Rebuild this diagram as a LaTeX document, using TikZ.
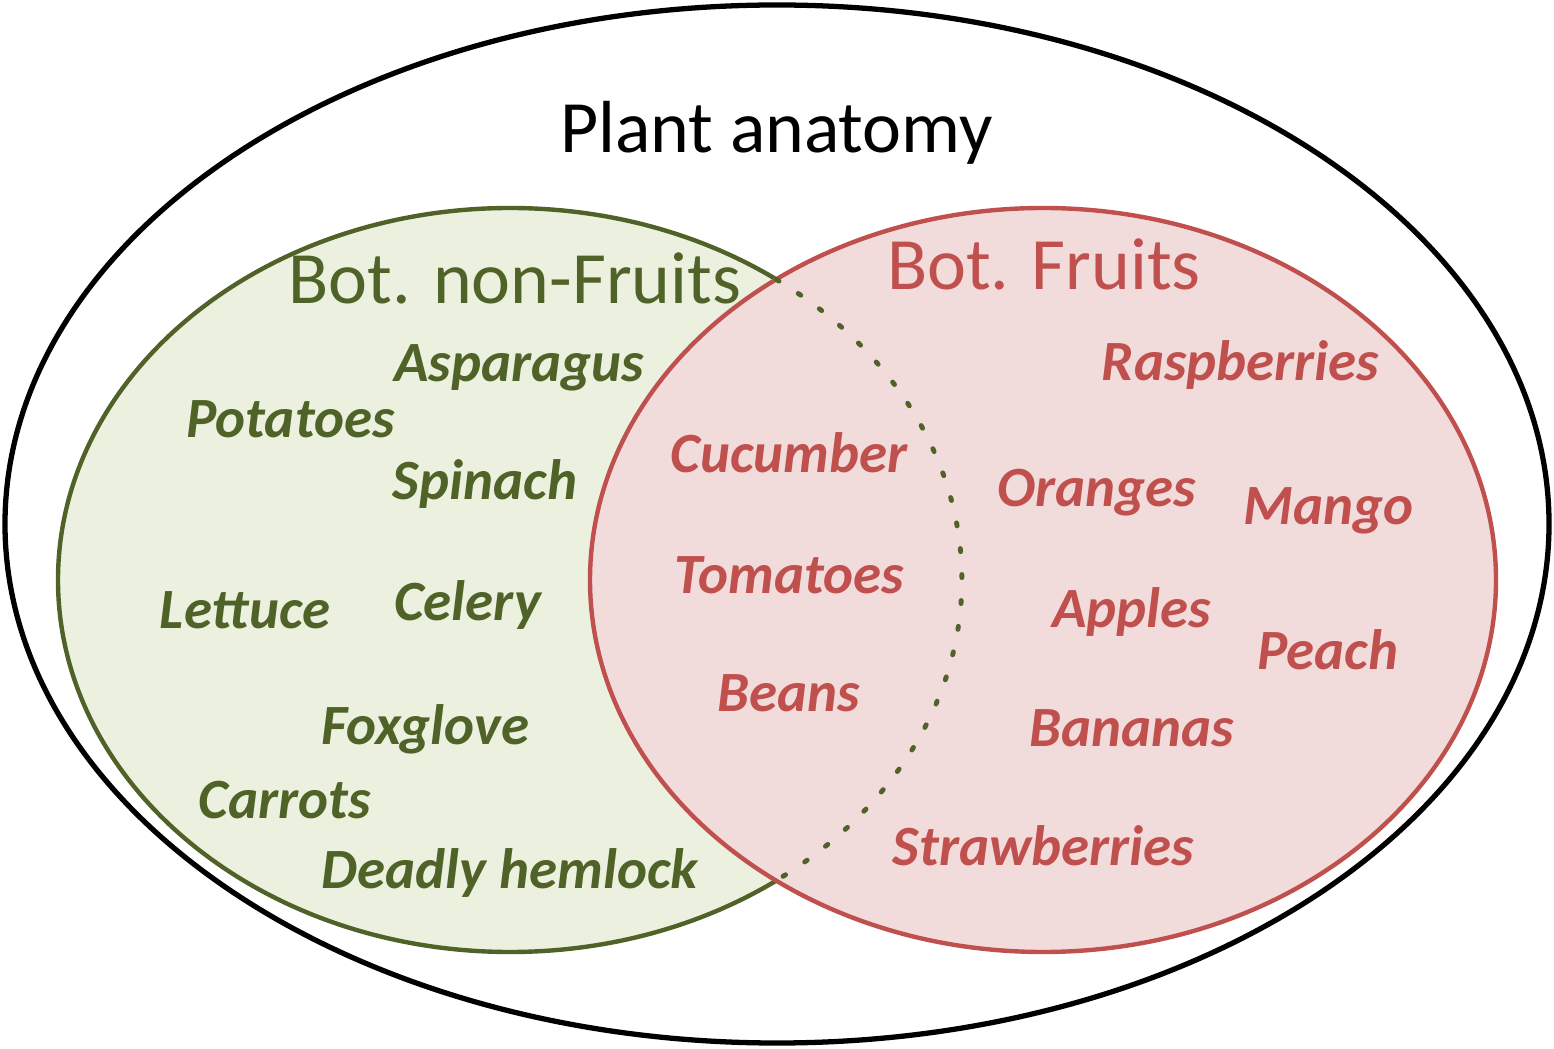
\documentclass[tikz,border=0pt]{standalone}
\usepackage{fontspec}
\setmainfont{Carlito}
\definecolor{leafgreen}{HTML}{4F6228}
\definecolor{leaffill}{HTML}{EBF1DE}
\definecolor{fruitred}{HTML}{C0504D}
\definecolor{fruitfill}{HTML}{F2DCDB}
\tikzset{
    setname/.style={font=\fontsize{21}{25}\selectfont, anchor=base},
    nonfruit/.style={text=leafgreen, font=\fontsize{16.2}{19}\selectfont\bfseries\itshape, anchor=base},
    fruit/.style={text=fruitred, font=\fontsize{16.2}{19}\selectfont\bfseries\itshape, anchor=base},
}
\begin{document}
\begin{tikzpicture}
    \useasboundingbox (0,0) rectangle (15.54,10.48);
    %draw sets
    \draw[line width=1.5pt] (7.77,5.24) ellipse (7.72 and 5.19);
    \draw[leafgreen, fill=leaffill, line width=1.25pt] (5.10,4.68) ellipse (4.52 and 3.72);
    \draw[fruitred, fill=fruitfill, line width=1.25pt] (10.43,4.68) ellipse (4.53 and 3.72);
    \draw[leafgreen, line width=1.4pt, line cap=round, dash pattern=on 0.03cm off 0.23cm] (7.764,7.685) arc (53.87:-53.87:4.52 and 3.72);
    %label sets
    \node[setname] (plants) at (7.765,8.953) {Plant anatomy};
    \node[setname, text=leafgreen] (nonfruits) at (5.15,7.44) {Bot. non-Fruits};
    \node[setname, text=fruitred] (fruits) at (10.44,7.58) {Bot. Fruits};
    %label non-fruits
    \node[nonfruit] (asparagus) at (5.19,6.66) {Asparagus};
    \node[nonfruit] (potatoes) at (2.905,6.10) {Potatoes};
    \node[nonfruit] (spinach) at (4.85,5.48) {Spinach};
    \node[nonfruit] (lettuce) at (2.45,4.197) {Lettuce};
    \node[nonfruit] (celery) at (4.675,4.273) {Celery};
    \node[nonfruit] (foxglove) at (4.255,3.037) {Foxglove};
    \node[nonfruit] (carrots) at (2.845,2.297) {Carrots};
    \node[nonfruit] (hemlock) at (5.10,1.60) {Deadly hemlock};
    %label fruits
    \node[fruit] (cucumber) at (7.89,5.753) {Cucumber};
    \node[fruit] (tomatoes) at (7.895,4.54) {Tomatoes};
    \node[fruit] (beans) at (7.89,3.363) {Beans};
    \node[fruit] (raspberries) at (12.405,6.67) {Raspberries};
    \node[fruit] (oranges) at (10.97,5.41) {Oranges};
    \node[fruit] (mango) at (13.285,5.23) {Mango};
    \node[fruit] (apples) at (11.315,4.20) {Apples};
    \node[fruit] (peach) at (13.28,3.78) {Peach};
    \node[fruit] (bananas) at (11.315,3.02) {Bananas};
    \node[fruit] (strawberries) at (10.435,1.83) {Strawberries};
\end{tikzpicture}
\end{document}
